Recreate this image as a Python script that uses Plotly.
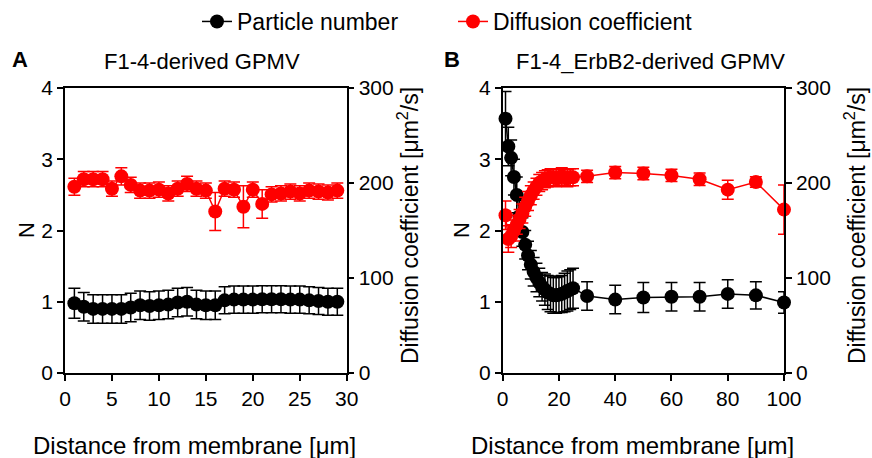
import plotly.graph_objects as go

# ---------------- data ----------------
# Panel A: F1-4-derived GPMV
dist_a = list(range(1, 30))
n_a = [0.98, 0.93, 0.90, 0.90, 0.90, 0.90, 0.92, 0.95, 0.94, 0.95, 0.96, 0.99, 1.00, 0.96, 0.95,
       0.95, 1.02, 1.03, 1.03, 1.03, 1.035, 1.035, 1.035, 1.03, 1.03, 1.02, 1.01, 1.00, 1.00]
n_a_err = [0.21, 0.2, 0.2, 0.2, 0.2, 0.2, 0.2, 0.2, 0.2, 0.2, 0.2, 0.2, 0.2, 0.2, 0.2,
           0.2, 0.19, 0.19, 0.19, 0.19, 0.19, 0.19, 0.19, 0.19, 0.19, 0.19, 0.19, 0.19, 0.19]
d_a = [196, 204, 204, 204, 194, 207, 198, 192, 192, 193, 189, 194, 199, 194, 192,
       170, 194, 193, 175, 193, 178, 188, 189, 191, 189, 192, 191, 190, 192]
d_a_err = [9, 8, 8, 8, 8, 9, 8, 8, 8, 8, 8, 8, 8, 8, 8,
           20, 8, 8, 22, 8, 15, 8, 8, 8, 8, 8, 8, 8, 8]

# Panel B: F1-4_ErbB2-derived GPMV
dist_b = list(range(1, 26)) + [30, 40, 50, 60, 70, 80, 90, 100]
n_b = [3.57, 3.18, 3.02, 2.75, 2.50, 2.20, 1.98, 1.80, 1.65, 1.52, 1.42, 1.34, 1.27, 1.21, 1.17,
       1.13, 1.11, 1.09, 1.09, 1.10, 1.11, 1.13, 1.15, 1.17, 1.19,
       1.08, 1.03, 1.06, 1.07, 1.07, 1.11, 1.09, 0.99]
n_b_err = [0.38, 0.27, 0.25, 0.25, 0.25, 0.22, 0.2, 0.2, 0.2, 0.2, 0.2, 0.2, 0.2, 0.2, 0.22,
           0.24, 0.25, 0.25, 0.25, 0.25, 0.26, 0.27, 0.28, 0.28, 0.28,
           0.2, 0.2, 0.21, 0.2, 0.2, 0.2, 0.19, 0.15]
d_b = [166, 141, 144, 150, 156, 162, 168, 175, 181, 187, 192, 196, 200, 202, 204,
       205, 206, 206, 205, 206, 207, 206, 205, 206, 206,
       207, 211, 210, 208, 204, 193, 201, 172]
d_b_err = [15, 14, 12, 11, 10, 10, 10, 10, 10, 10, 9, 9, 9, 9, 9,
           9, 9, 9, 9, 9, 9, 9, 9, 9, 9,
           6.5, 6.5, 6.5, 6.5, 6.5, 10, 5.5, 26]

BLACK = "#000000"
RED = "#ff0000"
FONT = "Liberation Sans, Arial, sans-serif"

fig = go.Figure()


def add_series(x, y, err, color, name, xa, ya, show):
    fig.add_trace(go.Scatter(
        x=x, y=y, mode="lines+markers", name=name, showlegend=show,
        xaxis=xa, yaxis=ya, cliponaxis=False,
        line=dict(color=color, width=1.5),
        marker=dict(color=color, size=14),
        error_y=dict(type="data", array=err, visible=True, color=color,
                     thickness=1.5, width=6),
    ))


add_series(dist_a, n_a, n_a_err, BLACK, "Particle number", "x", "y", True)
add_series(dist_a, d_a, d_a_err, RED, "Diffusion coefficient", "x", "y2", True)
add_series(dist_b, n_b, n_b_err, BLACK, "Particle number", "x2", "y3", False)
add_series(dist_b, d_b, d_b_err, RED, "Diffusion coefficient", "x2", "y4", False)

W, H = 872, 458
ydom = [(H - 373) / H, (H - 88) / H]

axis_common = dict(showline=True, linecolor="black", linewidth=1.5, ticks="outside",
                   ticklen=6, tickwidth=1.5, tickcolor="black", showgrid=False,
                   zeroline=False, tickfont=dict(family=FONT, size=21, color="black"),
                   automargin=False)

fig.update_layout(
    width=W, height=H,
    margin=dict(l=0, r=0, t=0, b=0),
    paper_bgcolor="white", plot_bgcolor="white",
    font=dict(family=FONT, size=21, color="black"),
    xaxis=dict(domain=[65 / W, 346.7 / W], anchor="y", range=[0, 30],
               tickvals=[0, 5, 10, 15, 20, 25, 30], mirror=True, **axis_common),
    yaxis=dict(domain=ydom, anchor="x", range=[0, 4], tickvals=[0, 1, 2, 3, 4], **axis_common),
    yaxis2=dict(overlaying="y", anchor="x", side="right", range=[0, 300],
                tickvals=[0, 100, 200, 300], **axis_common),
    xaxis2=dict(domain=[502.7 / W, 784 / W], anchor="y3", range=[0, 100],
                tickvals=[0, 20, 40, 60, 80, 100], mirror=True, **axis_common),
    yaxis3=dict(domain=ydom, anchor="x2", range=[0, 4], tickvals=[0, 1, 2, 3, 4], **axis_common),
    yaxis4=dict(overlaying="y3", anchor="x2", side="right", range=[0, 300],
                tickvals=[0, 100, 200, 300], **axis_common),
    legend=dict(orientation="h", x=197 / W, xanchor="left", y=1, yanchor="top",
                font=dict(family=FONT, size=23, color="black"),
                bgcolor="rgba(0,0,0,0)", entrywidth=211, entrywidthmode="pixels"),
)


def ann(text, xpx, ypx, size=21, angle=0, bold=False):
    fig.add_annotation(
        text=f"<b>{text}</b>" if bold else text,
        x=xpx / W, y=(H - ypx) / H, xref="paper", yref="paper",
        xanchor="center", yanchor="middle", showarrow=False, textangle=angle,
        font=dict(family=FONT, size=size, color="black"),
    )


ann("A", 20, 60, size=22, bold=True)
ann("F1-4-derived GPMV", 202, 62, size=22)
ann("B", 452, 60, size=22, bold=True)
ann("F1-4_ErbB2-derived GPMV", 650, 62, size=22)
ann("N", 27, 230, size=22, angle=-90)
ann("N", 462, 230, size=22, angle=-90)
ann("Diffusion coefficient [μm<sup>2</sup>/s]", 408, 226, size=23, angle=-90)
ann("Diffusion coefficient [μm<sup>2</sup>/s]", 855, 226, size=23, angle=-90)
ann("Distance from membrane [μm]", 194, 445, size=24)
ann("Distance from membrane [μm]", 632, 445, size=24)

fig.write_html("out.html")
